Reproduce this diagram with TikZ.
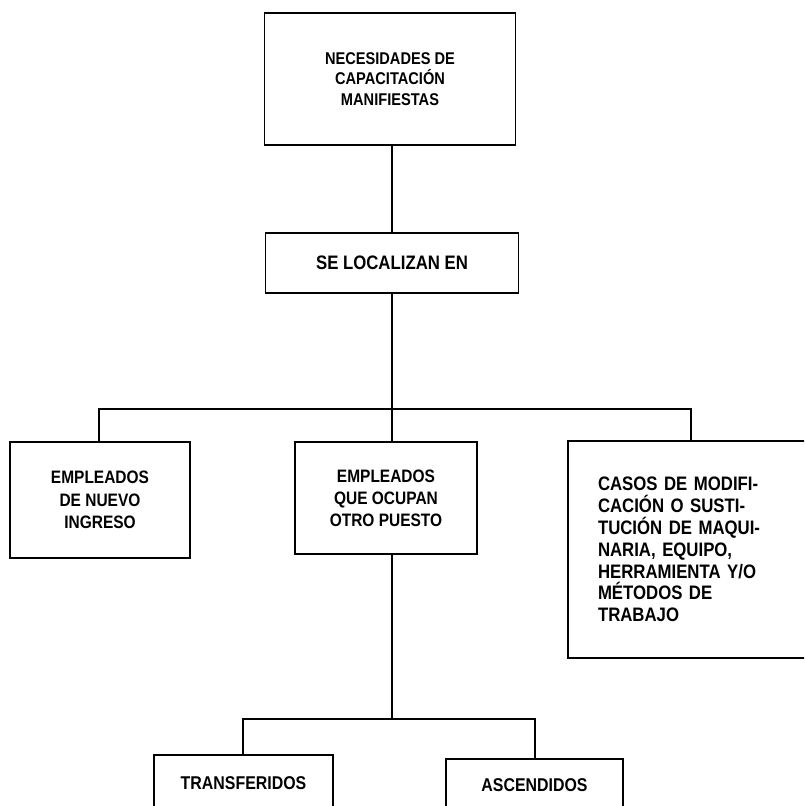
\documentclass[tikz,border=0pt]{standalone}
\usepackage{fontspec}
\setmainfont{Liberation Sans}[FakeStretch=0.86,UprightFont=* Bold]
\begin{document}
\begin{tikzpicture}[x=1pt,y=-1pt,line width=1.6pt,
  box/.style={draw,rectangle,align=center,inner sep=0pt},
  link/.style={draw,line width=1.6pt}]
\useasboundingbox (0,0) rectangle (804,806);
\clip (0,0) rectangle (804,806);
\node[box,minimum width=251pt,minimum height=132pt,font=\fontsize{17}{20.5}\selectfont] (top) at (390,79) {NECESIDADES DE\\CAPACITACIÓN\\MANIFIESTAS};
\node[box,minimum width=253pt,minimum height=60pt,font=\fontsize{19.5}{22}\selectfont] (loc) at (392,263) {SE LOCALIZAN EN};
\node[box,minimum width=180pt,minimum height=116pt,font=\fontsize{18}{22.5}\selectfont] (left) at (100,500) {EMPLEADOS\\DE NUEVO\\INGRESO};
\node[box,minimum width=182pt,minimum height=112pt,font=\fontsize{18}{22}\selectfont] (center) at (386,498) {EMPLEADOS\\QUE OCUPAN\\OTRO PUESTO};
\node[box,minimum width=244pt,minimum height=217pt,text width=184pt,align=left,font=\fontsize{19.5}{21.8}\selectfont] (right) at (690,549.5) {CASOS DE MODIFI-\\CACIÓN O SUSTI-\\TUCIÓN DE MAQUI-\\NARIA, EQUIPO,\\HERRAMIENTA Y/O\\MÉTODOS DE\\TRABAJO\\[6pt]};
\node[box,minimum width=179pt,minimum height=57pt,font=\fontsize{18.5}{22}\selectfont] (trans) at (243.5,783.5) {TRANSFERIDOS};
\node[box,minimum width=177pt,minimum height=53pt,font=\fontsize{18.5}{22}\selectfont] (asc) at (534.5,785.5) {ASCENDIDOS};
\coordinate (j1) at (392,409);
\coordinate (bl) at (99,409);
\coordinate (br) at (691,409);
\coordinate (j2) at (392,719);
\coordinate (tl) at (243,719);
\coordinate (ar) at (535,719);
\path[link] (top.south -| j1) -- (loc.north -| j1);
\path[link] (loc.south -| j1) -- (center.north -| j1);
\path[link] (left.north -| bl) -- (bl) -- (br) -- (right.north -| br);
\path[link] (center.south -| j2) -- (j2);
\path[link] (trans.north -| tl) -- (tl) -- (ar) -- (asc.north -| ar);
\end{tikzpicture}
\end{document}
